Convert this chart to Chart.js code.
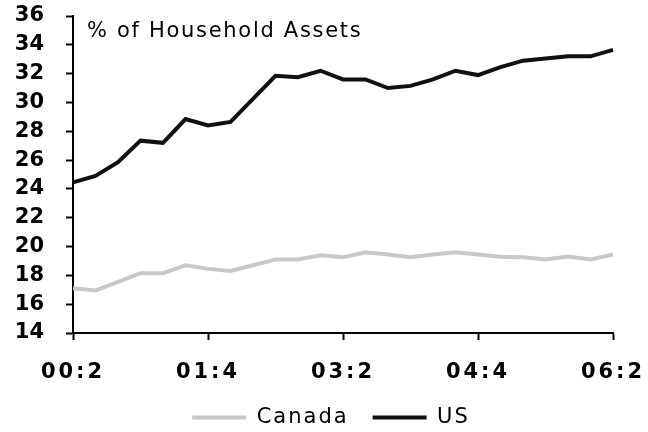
<!DOCTYPE html>
<html>
<head>
<meta charset="utf-8">
<script src="https://cdn.jsdelivr.net/npm/chart.js@4"></script>
<style>
html, body { margin: 0; padding: 0; background: #ffffff; }
#wrap { width: 648px; height: 432px; position: relative; }
</style>
</head>
<body>
<div id="wrap"><canvas id="c" width="648" height="432"></canvas></div>
<script>
// ---- data ----
const quarters = ['00:2','00:3','00:4','01:1','01:2','01:3','01:4','02:1','02:2','02:3','02:4','03:1','03:2','03:3','03:4','04:1','04:2','04:3','04:4','05:1','05:2','05:3','05:4','06:1','06:2'];
const xTickLabels = ['00:2','01:4','03:2','04:4','06:2'];
const canadaValues = [17.1,16.95,17.55,18.15,18.15,18.7,18.45,18.3,18.7,19.1,19.1,19.4,19.25,19.6,19.45,19.25,19.45,19.6,19.45,19.3,19.25,19.1,19.3,19.1,19.45];
const usValues = [24.45,24.9,25.85,27.35,27.2,28.85,28.4,28.65,30.25,31.85,31.75,32.2,31.6,31.6,31.0,31.15,31.6,32.2,31.9,32.45,32.9,33.05,33.2,33.2,33.65];
const seriesNames = ['Canada','US'];
const yMin = 14, yMax = 36, yStep = 2;
const titleText = '% of Household Assets';

Chart.defaults.font.family = '"DejaVu Sans", Verdana, sans-serif';
Chart.defaults.color = '#000';

function withSpacing(ctx, sp, fn) {
  const prev = ctx.letterSpacing;
  ctx.letterSpacing = sp;
  try { fn(); } finally { ctx.letterSpacing = prev; }
}

const LEGEND_SP = '2px';
const XTICK_SP = '3px';

const layoutPlugin = {
  id: 'layoutTweaks',
  beforeLayout(chart) {
    const lg = chart.legend;
    if (lg && !lg._wrapped) {
      lg._wrapped = true;
      const f = lg.fit.bind(lg), d = lg.draw.bind(lg);
      lg.fit = function () { withSpacing(chart.ctx, LEGEND_SP, f); this.height = 49; };
      lg.draw = function () { withSpacing(chart.ctx, LEGEND_SP, d); };
    }
  },
  afterLayout(chart) {
    const lg = chart.legend;
    if (lg) {
      const dx = 331 - (lg.left + lg.right) / 2;
      lg.left += dx; lg.right += dx;
    }
    const xs = chart.scales.x;
    if (xs && !xs._wrapped) {
      xs._wrapped = true;
      const dl = xs.drawLabels.bind(xs);
      xs.drawLabels = function (area) { withSpacing(chart.ctx, XTICK_SP, () => dl(area)); };
    }
  },
  afterDraw(chart) {
    const ctx = chart.ctx;
    const a = chart.chartArea;
    ctx.save();
    ctx.font = '21px "DejaVu Sans", Verdana, sans-serif';
    ctx.letterSpacing = '1.7px';
    ctx.fillStyle = '#000';
    ctx.textAlign = 'left';
    ctx.textBaseline = 'alphabetic';
    ctx.fillText(titleText, a.left + 14, a.top + 20.5);
    ctx.restore();
  }
};

new Chart(document.getElementById('c'), {
  type: 'line',
  data: {
    labels: quarters,
    datasets: [
      { label: seriesNames[0], data: canadaValues, borderColor: '#c8c8c8', backgroundColor: '#c8c8c8', borderWidth: 4, pointRadius: 0, tension: 0, fill: false },
      { label: seriesNames[1], data: usValues, borderColor: '#111111', backgroundColor: '#111111', borderWidth: 4, pointRadius: 0, tension: 0, fill: false }
    ]
  },
  options: {
    responsive: false,
    animation: false,
    devicePixelRatio: 1,
    layout: { padding: { left: 0, right: 35, top: 16, bottom: 0 } },
    plugins: {
      legend: {
        position: 'bottom',
        align: 'center',
        labels: { boxWidth: 54, boxHeight: 0, padding: 24, color: '#000', font: { size: 21 } }
      },
      tooltip: { enabled: false },
      title: { display: false }
    },
    scales: {
      x: {
        type: 'category',
        offset: false,
        grid: { display: true, drawOnChartArea: false, drawTicks: true, tickLength: 7, color: '#000', tickColor: '#000', tickWidth: 2 },
        border: { display: true, color: '#000', width: 2 },
        ticks: {
          autoSkip: false, maxRotation: 0, minRotation: 0, padding: 20, color: '#000',
          font: { size: 21, weight: 'bold' },
          callback: function (v) { const l = this.getLabelForValue(v); return xTickLabels.includes(l) ? l : null; }
        },
        afterFit(s) { s.height = 50; s.paddingLeft = 0; s.paddingRight = 0; }
      },
      y: {
        min: yMin, max: yMax,
        grid: { display: true, drawOnChartArea: false, drawTicks: true, tickLength: 7, color: '#000', tickColor: '#000', tickWidth: 2 },
        border: { display: true, color: '#000', width: 2 },
        ticks: { stepSize: yStep, autoSkip: false, padding: 22, color: '#000', font: { size: 21, weight: 'bold' } },
        afterFit(s) { s.width = 73; s.paddingTop = 0; s.paddingBottom = 0; }
      }
    }
  },
  plugins: [layoutPlugin]
});
</script>
</body>
</html>
